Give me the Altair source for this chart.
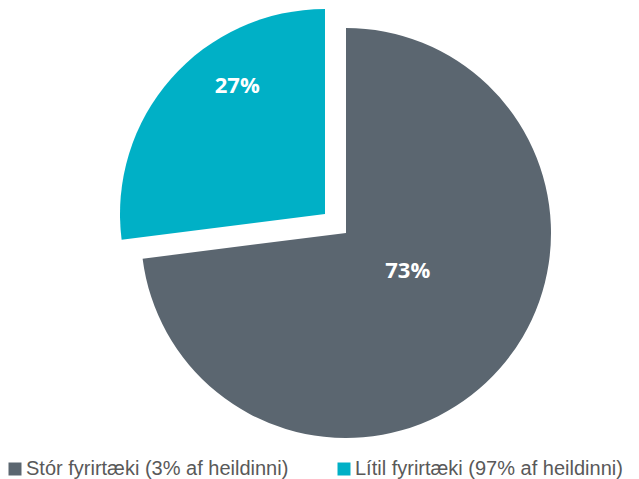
import altair as alt
import pandas as pd

categories = ["Stór fyrirtæki (3% af heildinni)", "Lítil fyrirtæki (97% af heildinni)"]
shares = [73, 27]
labels = ["73%", "27%"]
colors = ["#5b6670", "#00b0c6"]
order_idx = [0, 1]

df = pd.DataFrame({"cat": categories, "share": shares, "label": labels, "idx": order_idx})

theta = alt.Theta("share:Q", stack=True)
order = alt.Order("idx:Q")
color_scale = alt.Scale(domain=categories, range=colors)

base = alt.Chart(df)

gray_arc = base.mark_arc(radius=205).encode(
    theta=theta,
    order=order,
    color=alt.Color("cat:N", scale=color_scale, sort=categories,
                    legend=alt.Legend(title=None, orient="none", legendX=-56, legendY=451,
                                      direction="horizontal", symbolType="square",
                                      symbolSize=169, symbolStrokeWidth=0,
                                      labelFontSize=20, labelFont="Liberation Sans",
                                      labelColor="#595959", columnPadding=45,
                                      labelOffset=1, labelLimit=0, padding=0)),
    opacity=alt.condition(alt.datum.idx == 0, alt.value(1), alt.value(0)),
)

teal_arc = base.mark_arc(radius=205, xOffset=-21, yOffset=-19).encode(
    theta=theta,
    order=order,
    color=alt.Color("cat:N", scale=color_scale, sort=categories, legend=None),
    opacity=alt.condition(alt.datum.idx == 1, alt.value(1), alt.value(0)),
)

gray_text = base.mark_text(radius=73, dx=7, dy=-10, fontSize=22, fontWeight="bold",
                           font="Open Sans", color="white", align="center",
                           baseline="middle").encode(
    theta=theta,
    order=order,
    text=alt.condition(alt.datum.idx == 0, "label:N", alt.value("")),
)

teal_text = base.mark_text(radius=165, dx=15, dy=-38, fontSize=22, fontWeight="bold",
                           font="Open Sans", color="white", align="center",
                           baseline="middle").encode(
    theta=theta,
    order=order,
    text=alt.condition(alt.datum.idx == 1, "label:N", alt.value("")),
)

chart = alt.layer(gray_arc, teal_arc, gray_text, teal_text).properties(
    width=570, height=450,
    autosize=alt.AutoSizeParams(type="none"),
    padding={"left": 53, "top": 0, "right": 0, "bottom": 21},
).configure_view(stroke=None)

chart.save("out.html", embed_options={"renderer": "svg", "actions": False})
